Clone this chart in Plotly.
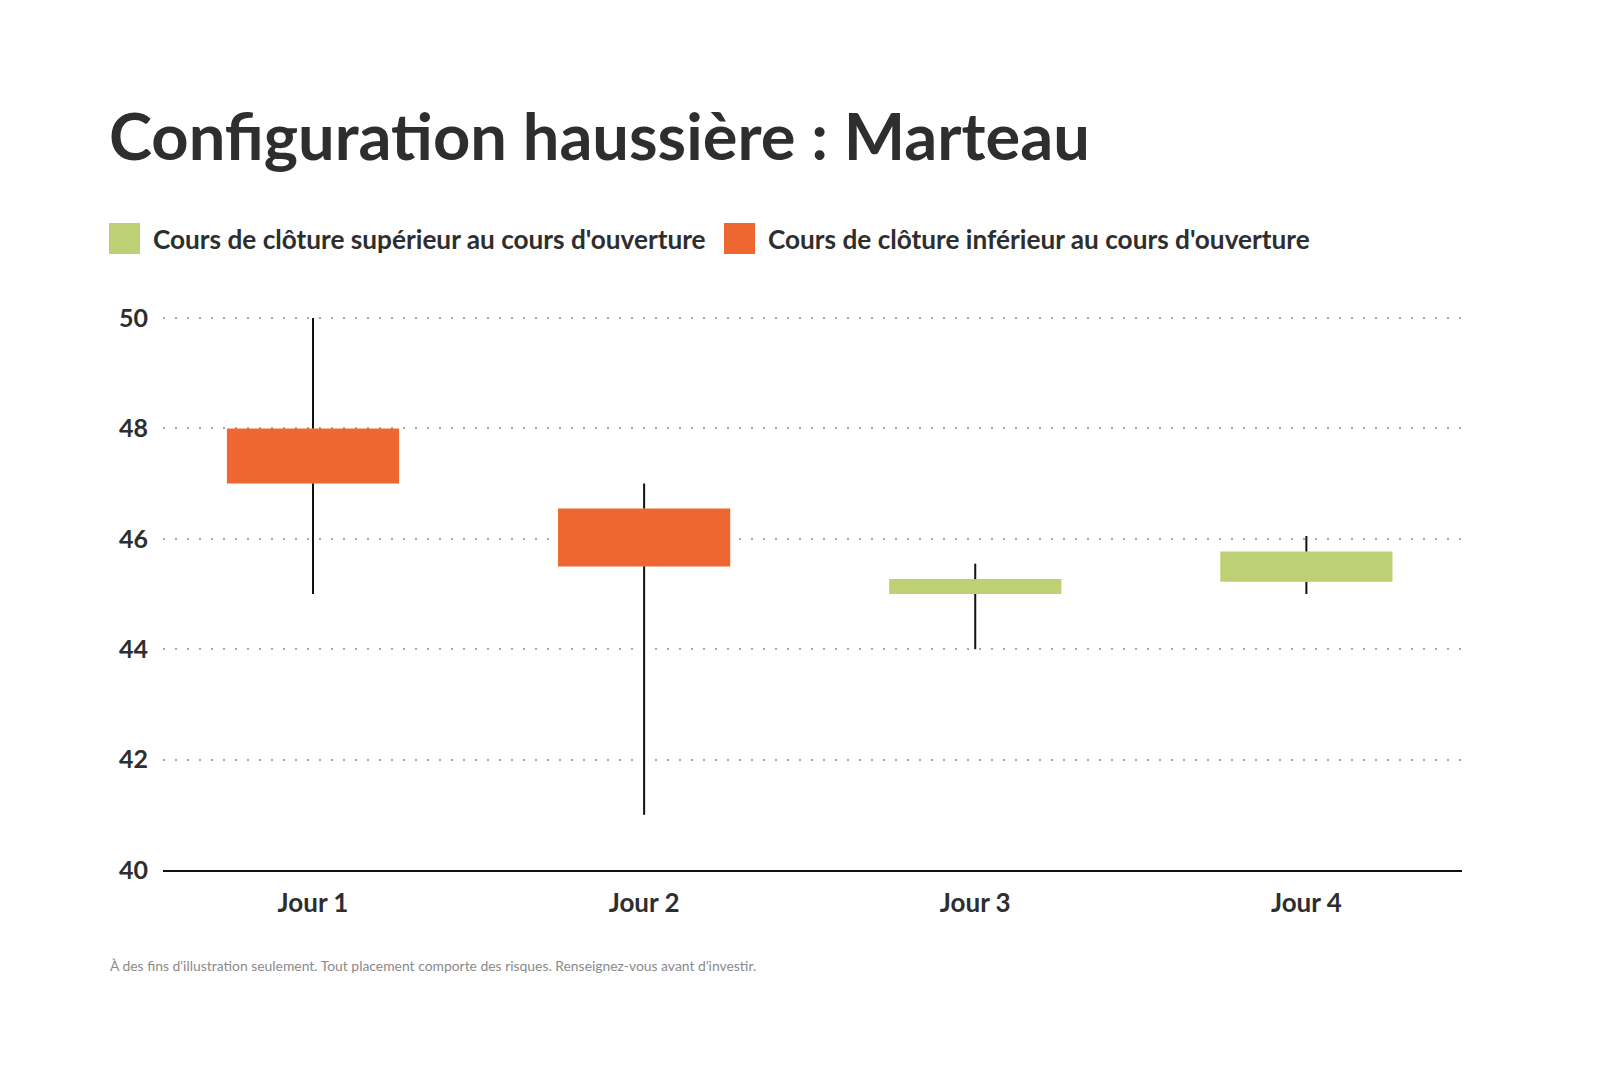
import plotly.graph_objects as go

# ---- data ----
days = ["Jour 1", "Jour 2", "Jour 3", "Jour 4"]
open_ = [48.0, 46.55, 45.0, 45.22]
high = [50.0, 47.0, 45.55, 46.05]
low = [45.0, 41.0, 44.0, 45.0]
close = [47.0, 45.5, 45.27, 45.77]
y_ticks = [40, 42, 44, 46, 48, 50]
title_text = "Configuration haussière : Marteau"
legend_up = "Cours de clôture supérieur au cours d'ouverture"
legend_down = "Cours de clôture inférieur au cours d'ouverture"
footer_text = ("À des fins d'illustration seulement. Tout placement comporte des risques. "
               "Renseignez-vous avant d'investir.")

GREEN = "#BDD074"
ORANGE = "#EF6730"
TEXT = "#2e2e2e"
FONT = "Lato"

W, H = 1600, 1073
def px(x):
    return x / W
def py(y):
    return 1 - y / H

# y axis geometry: 40 at 870px, 50 at 318px; range top padded so the 50 grid line is kept
Y0, Y1 = 40, 50.05
BOTTOM_PX = 870.0
PX_PER_UNIT = (BOTTOM_PX - 318) / 10
y_top_px = 318 - (Y1 - 50) * PX_PER_UNIT

fig = go.Figure()

# wicks (two segments per candle so bodies sit on top)
wx, wy = [], []
for d, o, h, l, c in zip(days, open_, high, low, close):
    top, bot = max(o, c), min(o, c)
    wx += [d, d, None, d, d, None]
    wy += [h, top, None, bot, l, None]
fig.add_trace(go.Scatter(x=wx, y=wy, mode="lines",
                         line=dict(color="#111111", width=2),
                         hoverinfo="skip", showlegend=False))

# bodies
for up, color in ((True, GREEN), (False, ORANGE)):
    xs, bases, hs = [], [], []
    for d, o, c in zip(days, open_, close):
        if (c > o) == up:
            xs.append(d)
            bases.append(min(o, c))
            hs.append(abs(c - o))
    fig.add_trace(go.Bar(x=xs, y=hs, base=bases, width=0.52,
                         marker=dict(color=color, line=dict(width=0)),
                         showlegend=False, hoverinfo="skip"))

shapes = [
    dict(type="rect", xref="paper", yref="paper",
         x0=px(109), x1=px(140), y0=py(254), y1=py(223),
         fillcolor=GREEN, line=dict(width=0)),
    dict(type="rect", xref="paper", yref="paper",
         x0=px(724), x1=px(755), y0=py(254), y1=py(223),
         fillcolor=ORANGE, line=dict(width=0)),
]

annotations = [
    dict(text=f"<b>{title_text}</b>", x=px(107), y=py(135), xref="paper", yref="paper",
         xanchor="left", yanchor="middle", showarrow=False,
         font=dict(family=FONT, size=65, color=TEXT)),
    dict(text=f"<b>{legend_up}</b>", x=px(151), y=py(239), xref="paper", yref="paper",
         xanchor="left", yanchor="middle", showarrow=False,
         font=dict(family=FONT, size=26.2, color=TEXT)),
    dict(text=f"<b>{legend_down}</b>", x=px(766), y=py(239), xref="paper", yref="paper",
         xanchor="left", yanchor="middle", showarrow=False,
         font=dict(family=FONT, size=26.2, color=TEXT)),
    dict(text=footer_text, x=px(108), y=py(965), xref="paper", yref="paper",
         xanchor="left", yanchor="middle", showarrow=False,
         font=dict(family=FONT, size=13.9, color="#8a8a8a")),
]

fig.update_layout(
    template="none",
    width=W, height=H,
    margin=dict(l=0, r=0, t=0, b=0, pad=0),
    autosize=False,
    paper_bgcolor="white", plot_bgcolor="white",
    barmode="overlay",
    showlegend=False,
    shapes=shapes,
    annotations=annotations,
    font=dict(family=FONT, color=TEXT),
    xaxis=dict(
        domain=[px(163), px(1462)],
        type="category",
        categoryorder="array", categoryarray=days,
        range=[-0.453, 3.47],
        showgrid=False, zeroline=False, automargin=False,
        showline=True, linecolor="#111111", linewidth=1.5,
        ticks="", ticklabelstandoff=9,
        tickfont=dict(family=FONT, size=26, color=TEXT, weight="bold"),
        fixedrange=True,
    ),
    yaxis=dict(
        domain=[py(BOTTOM_PX), py(y_top_px)],
        range=[Y0, Y1],
        tickvals=y_ticks,
        ticktext=[str(v) for v in y_ticks],
        showgrid=True, gridcolor="#a8a8a8", gridwidth=1.5, griddash="2px,10px",
        zeroline=False, showline=False, automargin=False,
        ticks="", ticklabelstandoff=14,
        tickfont=dict(family=FONT, size=25, color=TEXT, weight="bold"),
        fixedrange=True,
    ),
)

fig.write_html("out.html")
